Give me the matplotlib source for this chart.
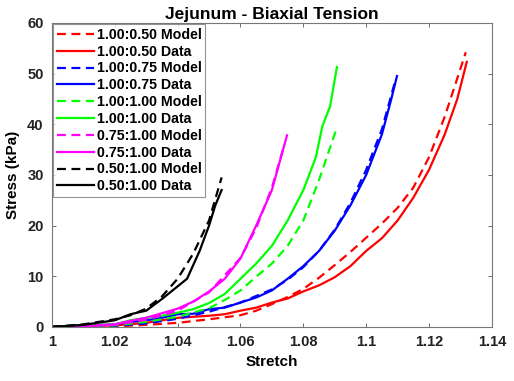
import matplotlib
matplotlib.use("Agg")
import matplotlib.pyplot as plt

# ---- data ----
red_data_x = [1.0, 1.02, 1.03, 1.04, 1.05, 1.055, 1.06, 1.065, 1.07, 1.075, 1.08, 1.085, 1.09, 1.095, 1.10, 1.105, 1.11, 1.115, 1.12, 1.125, 1.129, 1.132]
red_data_y = [0.0, 0.3, 0.8, 1.8, 2.2, 2.5, 3.2, 3.8, 4.8, 5.6, 7.0, 8.2, 9.8, 12.0, 15.0, 17.5, 21.0, 25.5, 31.0, 38.0, 45.0, 52.3]
red_model_x = [1.0, 1.02, 1.03, 1.04, 1.05, 1.06, 1.065, 1.07, 1.075, 1.08, 1.085, 1.09, 1.095, 1.10, 1.105, 1.11, 1.115, 1.12, 1.125, 1.1317]
red_model_y = [0.0, 0.1, 0.4, 0.8, 1.5, 2.3, 3.2, 4.5, 5.9, 7.5, 9.7, 12.2, 14.8, 17.6, 20.4, 23.5, 27.5, 33.5, 41.5, 54.2]

blue_data_x = [1.0, 1.02, 1.025, 1.03, 1.035, 1.04, 1.045, 1.05, 1.055, 1.06, 1.065, 1.07, 1.075, 1.08, 1.085, 1.09, 1.095, 1.10, 1.105, 1.108, 1.1098]
blue_data_y = [0.0, 0.5, 1.0, 1.3, 1.8, 2.5, 2.6, 3.5, 3.8, 4.8, 5.8, 7.2, 9.5, 12.0, 15.0, 19.0, 24.0, 30.0, 38.0, 45.0, 49.5]
blue_model_x = [1.0, 1.02, 1.03, 1.04, 1.05, 1.06, 1.07, 1.075, 1.08, 1.085, 1.09, 1.095, 1.10, 1.105, 1.109]
blue_model_y = [0.0, 0.2, 0.7, 1.6, 3.0, 4.8, 7.4, 9.3, 11.8, 15.0, 19.2, 24.5, 31.0, 39.0, 48.0]

green_data_x = [1.0, 1.02, 1.025, 1.03, 1.035, 1.04, 1.045, 1.05, 1.055, 1.06, 1.065, 1.07, 1.075, 1.08, 1.084, 1.086, 1.0885, 1.0907]
green_data_y = [0.0, 0.5, 1.3, 1.8, 2.2, 2.8, 3.5, 4.7, 6.5, 9.5, 12.5, 16.0, 21.0, 27.0, 33.5, 39.5, 43.5, 51.3]
green_model_x = [1.0, 1.02, 1.03, 1.04, 1.05, 1.055, 1.06, 1.065, 1.07, 1.075, 1.08, 1.085, 1.0905]
green_model_y = [0.0, 0.3, 1.0, 2.0, 3.7, 5.3, 7.2, 9.9, 12.5, 16.0, 21.0, 29.0, 39.0]

magenta_data_x = [1.0, 1.01, 1.02, 1.025, 1.03, 1.035, 1.04, 1.045, 1.05, 1.055, 1.06, 1.065, 1.07, 1.0748]
magenta_data_y = [0.0, 0.1, 0.5, 1.2, 1.8, 2.7, 3.6, 5.0, 7.0, 9.5, 13.5, 20.0, 27.0, 37.8]
magenta_model_x = [1.0, 1.02, 1.03, 1.04, 1.05, 1.06, 1.065, 1.07, 1.074]
magenta_model_y = [0.0, 0.4, 1.4, 3.2, 6.8, 13.6, 19.5, 27.5, 36.0]

black_data_x = [1.0, 1.01, 1.02, 1.025, 1.03, 1.035, 1.04, 1.043, 1.047, 1.05, 1.052, 1.054]
black_data_y = [0.0, 0.4, 1.3, 2.5, 3.2, 5.5, 8.0, 9.5, 15.0, 20.0, 24.0, 27.0]
black_model_x = [1.0, 1.01, 1.02, 1.025, 1.03, 1.035, 1.04, 1.045, 1.05, 1.054]
black_model_y = [0.0, 0.5, 1.5, 2.3, 3.6, 6.0, 9.5, 14.5, 21.0, 29.5]

labels = ["1.00:0.50 Model", "1.00:0.50 Data",
          "1.00:0.75 Model", "1.00:0.75 Data",
          "1.00:1.00 Model", "1.00:1.00 Data",
          "0.75:1.00 Model", "0.75:1.00 Data",
          "0.50:1.00 Model", "0.50:1.00 Data"]

x_ticks = [1.0, 1.02, 1.04, 1.06, 1.08, 1.10, 1.12, 1.14]
x_ticklabels = ["1", "1.02", "1.04", "1.06", "1.08", "1.1", "1.12", "1.14"]
y_ticks = [0, 10, 20, 30, 40, 50, 60]

series = [
    (red_model_x, red_model_y, red_data_x, red_data_y, "#ff0000"),
    (blue_model_x, blue_model_y, blue_data_x, blue_data_y, "#0000ff"),
    (green_model_x, green_model_y, green_data_x, green_data_y, "#00ff00"),
    (magenta_model_x, magenta_model_y, magenta_data_x, magenta_data_y, "#ff00ff"),
    (black_model_x, black_model_y, black_data_x, black_data_y, "#000000"),
]

plt.rcParams['font.family'] = ['Liberation Sans', 'DejaVu Sans']
plt.rcParams['font.weight'] = 'bold'

fig = plt.figure(figsize=(5.14, 3.81), dpi=100)
ax = fig.add_axes([0.101, 0.142, 0.856, 0.798])

i = 0
for mx, my, dx, dy, c in series:
    ax.plot(mx, my, color=c, lw=1.6, linestyle=(0, (4, 2.5)), label=labels[i])
    ax.plot(dx, dy, color=c, lw=1.6, linestyle='-', label=labels[i + 1])
    i += 2

ax.set_xlim(1.0, 1.14)
ax.set_ylim(0, 60)
ax.set_xticks(x_ticks)
ax.set_xticklabels(x_ticklabels)
ax.set_yticks(y_ticks)
ax.tick_params(direction='in', top=True, right=True, length=3, width=0.6,
               color='#555555', labelsize=10.5, labelcolor='#222222', pad=6)
for lab in ax.get_xticklabels() + ax.get_yticklabels():
    lab.set_fontweight('bold')
for s in ax.spines.values():
    s.set_color('#777777')
    s.set_linewidth(0.8)

ax.set_xlabel("Stretch", fontsize=11, fontweight='bold', labelpad=4)
ax.set_ylabel("Stress (kPa)", fontsize=11, fontweight='bold', labelpad=5)
ax.set_title("Jejunum - Biaxial Tension", fontsize=12.5, fontweight='bold', pad=3)

leg = ax.legend(loc='upper left', fontsize=10.2, frameon=True, fancybox=False,
                borderaxespad=0.1, handlelength=2.6, handletextpad=0.2,
                labelspacing=0.2, borderpad=0.25)
leg.get_frame().set_edgecolor('#777777')
leg.get_frame().set_linewidth(0.8)
for t in leg.get_texts():
    t.set_fontweight('bold')

fig.savefig("out.png", dpi=100)
